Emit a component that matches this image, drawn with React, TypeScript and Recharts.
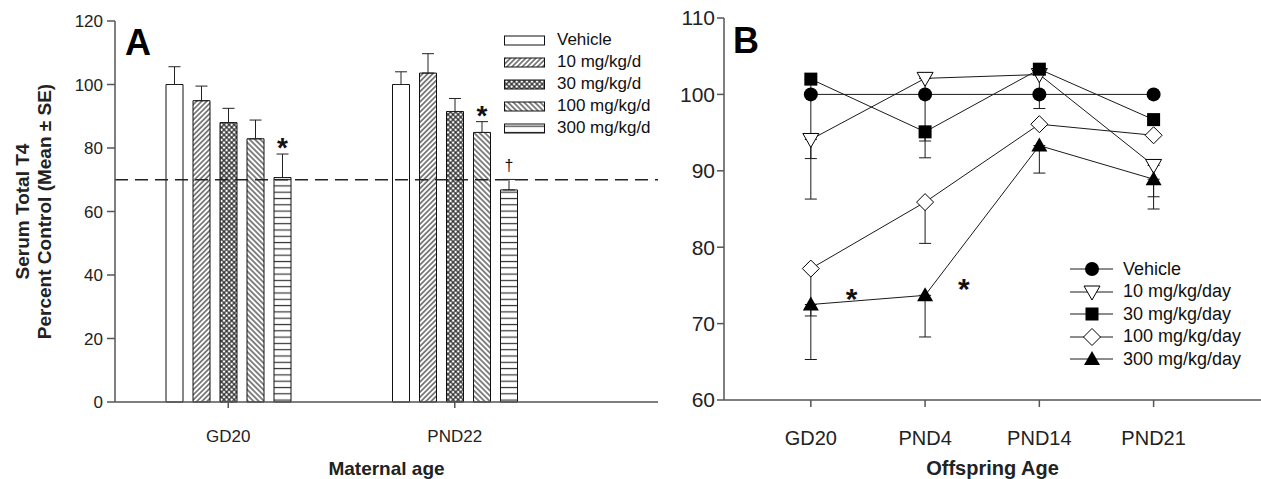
import React from "react";
import {
  BarChart, Bar, XAxis, YAxis, ErrorBar, ReferenceLine, LabelList, Legend,
  LineChart, Line, ReferenceDot,
} from "recharts";

const FONT = '"Liberation Sans", Arial, Helvetica, sans-serif';

// ---- Panel A (maternal) ----
const maternalAges = ["GD20", "PND22"];
const doseKeys = ["vehicle", "d10", "d30", "d100", "d300"];
const doseLabelsA = ["Vehicle", "10 mg/kg/d", "30 mg/kg/d", "100 mg/kg/d", "300 mg/kg/d"];

const vehicleA = [100, 100];
const vehicleASe = [5.6, 4.0];
const d10A = [94.9, 103.6];
const d10ASe = [4.6, 6.1];
const d30A = [88.0, 91.5];
const d30ASe = [4.5, 4.1];
const d100A = [82.9, 84.9];
const d100ASe = [5.9, 3.4];
const d300A = [70.7, 66.8];
const d300ASe = [7.4, 3.3];
const d100AMarks = ["", "*"];
const d300AMarks = ["*", "†"];
const yTicksA = [0, 20, 40, 60, 80, 100, 120];

// ---- Panel B (offspring) ----
const offspringAges = ["GD20", "PND4", "PND14", "PND21"];
const doseLabelsB = ["Vehicle", "10 mg/kg/day", "30 mg/kg/day", "100 mg/kg/day", "300 mg/kg/day"];
const vehicleB = [100, 100, 100, 100];
const d10B = [94.1, 102.1, 102.6, 90.7];
const d10BSe = [7.8, 8.2, 4.45, 4.1];
const d30B = [102.0, 95.1, 103.3, 96.7];
const d30BSe = [10.4, 3.4, 0, 0];
const d100B = [77.2, 85.9, 96.1, 94.65];
const d100BSe = [6.2, 5.4, 0, 0];
const d300B = [72.5, 73.7, 93.3, 88.9];
const d300BSe = [7.2, 5.45, 3.6, 3.9];
const starsBX = [0.357, 1.339];
const starsBY = [74.2, 75.4];
const yTicksB = [60, 70, 80, 90, 100, 110];

const rowsA = maternalAges.map((age, i) => ({
  age,
  vehicle: vehicleA[i], vehicleSe: [0, vehicleASe[i]],
  d10: d10A[i], d10Se: [0, d10ASe[i]],
  d30: d30A[i], d30Se: [0, d30ASe[i]],
  d100: d100A[i], d100Se: [0, d100ASe[i]],
  d300: d300A[i], d300Se: [0, d300ASe[i]],
}));

const rowsB = offspringAges.map((age, i) => ({
  x: i,
  vehicle: vehicleB[i],
  d10: d10B[i], d10Se: [d10BSe[i], 0],
  d30: d30B[i], d30Se: [d30BSe[i], 0],
  d100: d100B[i], d100Se: [d100BSe[i], 0],
  d300: d300B[i], d300Se: [d300BSe[i], 0],
}));

const fillsA = ["#fff", "url(#hatchFwd)", "url(#crossHatch)", "url(#hatchBack)", "url(#hLines)"];
const markerKinds = ["circle", "down", "square", "diamond", "up"];

const AXIS = "#555";
const INK = "#1a1a1a";

const Patterns = () => (
  <defs>
    <pattern id="hatchFwd" patternUnits="userSpaceOnUse" width="3.6" height="3.6" patternTransform="rotate(45)">
      <rect width="3.6" height="3.6" fill="#fff" />
      <line x1="1.8" y1="0" x2="1.8" y2="3.6" stroke="#222" strokeWidth="1.1" />
    </pattern>
    <pattern id="hatchBack" patternUnits="userSpaceOnUse" width="3.8" height="3.8" patternTransform="rotate(-45)">
      <rect width="3.8" height="3.8" fill="#fff" />
      <line x1="1.9" y1="0" x2="1.9" y2="3.8" stroke="#222" strokeWidth="1.1" />
    </pattern>
    <pattern id="crossHatch" patternUnits="userSpaceOnUse" width="3.6" height="3.6" patternTransform="rotate(45)">
      <rect width="3.6" height="3.6" fill="#fff" />
      <line x1="1.8" y1="0" x2="1.8" y2="3.6" stroke="#222" strokeWidth="1.2" />
      <line x1="0" y1="1.8" x2="3.6" y2="1.8" stroke="#222" strokeWidth="1.2" />
    </pattern>
    <pattern id="hLines" patternUnits="userSpaceOnUse" width="8" height="6.3">
      <rect width="8" height="6.3" fill="#fff" />
      <line x1="0" y1="3.2" x2="8" y2="3.2" stroke="#333" strokeWidth="1.2" />
    </pattern>
  </defs>
);

const markContent = (marks: string[], se: number[]) => (props: any) => {
  const { x, y, width, height, value, index } = props;
  const m = marks[index];
  if (!m) return null;
  const errTop = y - se[index] * (height / value);
  const cx = x + width / 2;
  if (m === "*") {
    return (
      <text key={index} x={cx} y={errTop + 3} textAnchor="middle" fontSize={28} fontWeight="bold" fontFamily={FONT} fill="#111">
        *
      </text>
    );
  }
  return (
    <text key={index} x={cx} y={errTop - 8} textAnchor="middle" fontSize={16} fontFamily={FONT} fill="#111">
      {m}
    </text>
  );
};

const LegendA = () => (
  <div style={{ fontFamily: FONT, fontSize: 17, color: "#111", whiteSpace: "nowrap" }}>
    {doseKeys.map((k, i) => (
      <div key={k} style={{ display: "flex", alignItems: "center", height: 22 }}>
        <svg width={42} height={11} style={{ marginRight: 11, flexShrink: 0 }}>
          <rect x={0.5} y={1} width={40} height={9} fill={fillsA[i]} stroke="#111" strokeWidth={1} />
        </svg>
        <span>{doseLabelsA[i]}</span>
      </div>
    ))}
  </div>
);

const YLabelA = (props: any) => {
  const { viewBox } = props;
  const cy = viewBox.y + viewBox.height / 2;
  return (
    <g fontFamily={FONT} fontSize={19} fontWeight="bold" fill="#222">
      <text x={22} y={cy} transform={`rotate(-90, 22, ${cy})`} textAnchor="middle" dominantBaseline="central">
        Serum Total T4
      </text>
      <text x={44} y={cy} transform={`rotate(-90, 44, ${cy})`} textAnchor="middle" dominantBaseline="central">
        Percent Control (Mean ± SE)
      </text>
    </g>
  );
};

function PanelA() {
  const seKeys = ["vehicleSe", "d10Se", "d30Se", "d100Se", "d300Se"];
  return (
    <BarChart
      width={680}
      height={479}
      data={rowsA}
      margin={{ top: 21, right: 22, bottom: 0, left: 0 }}
      barSize={17}
      barGap={10}
    >
      <Patterns />
      <XAxis
        dataKey="age"
        padding={{ left: 0, right: 90 }}
        stroke={AXIS}
        strokeWidth={1.5}
        tickSize={6}
        tickMargin={22}
        tick={{ fontSize: 17, fill: "#222", fontFamily: FONT }}
        height={77}
        label={{ value: "Maternal age", position: "insideBottom", offset: 4, fontSize: 19, fontWeight: "bold", fill: "#222", fontFamily: FONT }}
      />
      <XAxis xAxisId="top" dataKey="age" orientation="top" height={0} tick={false} tickLine={false} stroke={AXIS} strokeWidth={1.5} padding={{ left: 0, right: 90 }} />
      <YAxis
        domain={[0, 120]}
        ticks={yTicksA}
        width={115}
        stroke={AXIS}
        strokeWidth={1.5}
        tickSize={8}
        tickMargin={4}
        tick={{ fontSize: 17, fill: "#222", fontFamily: FONT }}
        label={<YLabelA />}
      />
      <YAxis yAxisId="right" orientation="right" domain={[0, 120]} width={0} tick={false} tickLine={false} stroke={AXIS} strokeWidth={1.5} />
      <ReferenceLine y={70} stroke="#222" strokeWidth={1.5} strokeDasharray="13 7" />
      {doseKeys.map((k, i) => (
        <Bar key={k} dataKey={k} fill={fillsA[i]} stroke="#111" strokeWidth={1} isAnimationActive={false}>
          <ErrorBar dataKey={seKeys[i]} width={6} stroke="#222" strokeWidth={1} direction="y" />
          {k === "d100" && <LabelList dataKey="d100" content={markContent(d100AMarks, d100ASe)} />}
          {k === "d300" && <LabelList dataKey="d300" content={markContent(d300AMarks, d300ASe)} />}
        </Bar>
      ))}
      <Legend content={<LegendA />} layout="vertical" verticalAlign="middle" align="center" wrapperStyle={{ left: 504, top: 29, width: 170 }} />
    </BarChart>
  );
}

function Marker({ kind, cx, cy }: { kind: string; cx: number; cy: number }) {
  switch (kind) {
    case "circle":
      return <circle cx={cx} cy={cy} r={7} fill="#000" />;
    case "down":
      return <polygon points={`${cx - 8},${cy - 6} ${cx + 8},${cy - 6} ${cx},${cy + 8}`} fill="#fff" stroke="#000" strokeWidth={1} />;
    case "square":
      return <rect x={cx - 6.5} y={cy - 6.5} width={13} height={13} fill="#000" />;
    case "diamond":
      return <polygon points={`${cx},${cy - 8.5} ${cx + 8.5},${cy} ${cx},${cy + 8.5} ${cx - 8.5},${cy}`} fill="#fff" stroke="#000" strokeWidth={1} />;
    default:
      return <polygon points={`${cx},${cy - 8} ${cx + 8},${cy + 6} ${cx - 8},${cy + 6}`} fill="#000" />;
  }
}

const LegendB = () => (
  <div style={{ fontFamily: FONT, fontSize: 18, color: "#111", whiteSpace: "nowrap" }}>
    {doseLabelsB.map((label, i) => (
      <div key={label} style={{ display: "flex", alignItems: "center", height: 22.5 }}>
        <svg width={44} height={20} style={{ marginRight: 9, flexShrink: 0 }}>
          <line x1={0} y1={10} x2={43} y2={10} stroke={INK} strokeWidth={1} />
          <Marker kind={markerKinds[i]} cx={22} cy={10} />
        </svg>
        <span>{label}</span>
      </div>
    ))}
  </div>
);

function PanelB() {
  const keys = ["vehicle", "d10", "d30", "d100", "d300"];
  return (
    <LineChart width={621} height={479} data={rowsB} margin={{ top: 18, right: 0, bottom: 0, left: 0 }}>
      <XAxis
        dataKey="x"
        type="number"
        domain={[-0.76, 3.94]}
        allowDataOverflow
        ticks={[0, 1, 2, 3]}
        tickFormatter={(v: number) => offspringAges[v]}
        stroke={AXIS}
        strokeWidth={1.5}
        tickSize={7}
        tickMargin={24}
        tick={{ fontSize: 20, fill: "#222", fontFamily: FONT }}
        height={79}
        label={{ value: "Offspring Age", position: "insideBottom", offset: 4, fontSize: 20, fontWeight: "bold", fill: "#222", fontFamily: FONT }}
      />
      <XAxis xAxisId="top" type="number" domain={[-0.76, 3.94]} allowDataOverflow orientation="top" height={0} tick={false} tickLine={false} stroke={AXIS} strokeWidth={1.5} />
      <YAxis
        domain={[60, 110]}
        ticks={yTicksB}
        width={84}
        stroke={AXIS}
        strokeWidth={1.5}
        tickSize={7}
        tickMargin={2}
        tick={{ fontSize: 21, fill: "#222", fontFamily: FONT }}
      />
      {keys.map((k, i) => (
        <Line
          key={k}
          dataKey={k}
          stroke={INK}
          strokeWidth={1}
          isAnimationActive={false}
          dot={(p: any) => <Marker key={`${k}-${p.index}`} kind={markerKinds[i]} cx={p.cx} cy={p.cy} />}
          activeDot={false}
        >
          {k !== "vehicle" && <ErrorBar dataKey={`${k}Se`} width={6} stroke={INK} strokeWidth={1} direction="y" />}
        </Line>
      ))}
      {starsBX.map((sx, i) => (
        <ReferenceDot
          key={i}
          x={sx}
          y={starsBY[i]}
          r={0}
          shape={(p: any) => (
            <text x={p.cx} y={p.cy + 17} textAnchor="middle" fontSize={30} fontWeight="bold" fontFamily={FONT} fill="#111">
              *
            </text>
          )}
        />
      ))}
      <Legend content={<LegendB />} layout="vertical" verticalAlign="middle" align="center" wrapperStyle={{ left: 430, top: 258, width: 190 }} />
    </LineChart>
  );
}

export default function App() {
  const letter: React.CSSProperties = {
    position: "absolute",
    fontFamily: FONT,
    fontWeight: "bold",
    fontSize: 36,
    lineHeight: "36px",
    color: "#000",
  };
  return (
    <div style={{ position: "relative", width: 1261, height: 479, overflow: "hidden", background: "#fff" }}>
      <style>{`body{margin:0}`}</style>
      <div style={{ position: "absolute", left: 0, top: 0 }}>
        <PanelA />
        <div style={{ ...letter, left: 125, top: 25 }}>A</div>
      </div>
      <div style={{ position: "absolute", left: 640, top: 0 }}>
        <PanelB />
        <div style={{ ...letter, left: 93, top: 23 }}>B</div>
      </div>
    </div>
  );
}
